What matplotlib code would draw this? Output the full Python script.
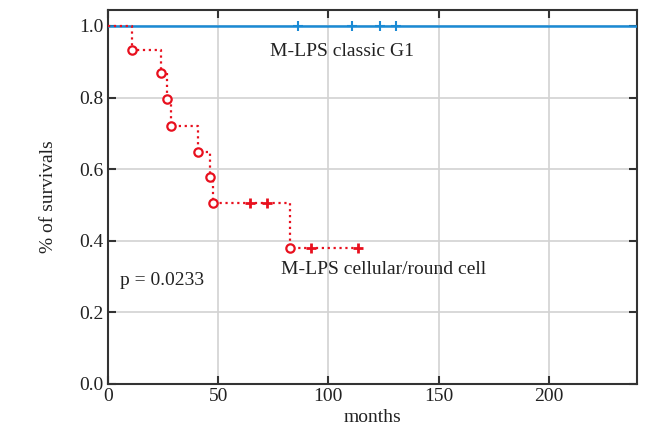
import matplotlib.pyplot as plt
import numpy as np

# cellular/round cell group: event times and survival after each event
red_times = [0, 11, 24, 27, 28.5, 41, 46.5, 47.5, 82.5]
red_surv = [1.0, 0.933, 0.868, 0.797, 0.72, 0.649, 0.578, 0.505, 0.38]
red_censor_t = [64.5, 72, 92, 113.5]
red_censor_s = [0.505, 0.505, 0.38, 0.38]
red_end = 113.5

# classic G1 group: no events
blue_times = [0, 240]
blue_surv = [1.0, 1.0]
blue_censor_t = [86, 110.5, 123.5, 130.5]

red = '#e8101e'
blue = '#1a8ad4'

plt.rcParams['font.family'] = ['Liberation Serif', 'DejaVu Serif']

fig = plt.figure(figsize=(6.49, 4.30), dpi=100)
ax = fig.add_axes([0.1664, 0.107, 0.815, 0.870])

ax.grid(True, color='#d2d2d2', linewidth=1.2)
ax.set_axisbelow(True)

# blue curve
ax.plot(blue_times, blue_surv, color=blue, linewidth=1.8, zorder=3)
ax.plot(blue_censor_t, [1.0] * len(blue_censor_t), linestyle='none', marker='+',
        color=blue, markersize=7, markeredgewidth=1.5, zorder=4)

# red step curve
xs = red_times + [red_end]
ys = red_surv + [red_surv[-1]]
ax.step(xs, ys, where='post', color=red, linestyle=':', linewidth=1.6, zorder=3)
ax.plot(red_times[1:], red_surv[1:], linestyle='none', marker='o', markersize=6,
        markerfacecolor='white', markeredgecolor=red, markeredgewidth=1.6, zorder=4)
ax.plot(red_censor_t, red_censor_s, linestyle='none', marker='+', color=red,
        markersize=7.5, markeredgewidth=2.0, zorder=4)

ax.text(106, 0.93, 'M-LPS classic G1', fontsize=14, ha='center', va='center', color='#222222')
ax.text(78.5, 0.32, 'M-LPS cellular/round cell', fontsize=14, ha='left', va='center', color='#222222')
ax.text(5.5, 0.29, 'p = 0.0233', fontsize=14, ha='left', va='center', color='#222222')

ax.set_xlim(0, 240)
ax.set_ylim(0, 1.045)
ax.set_xticks([0, 50, 100, 150, 200])
ax.set_yticks([0.0, 0.2, 0.4, 0.6, 0.8, 1.0])
ax.set_yticklabels(['0.0', '0.2', '0.4', '0.6', '0.8', '1.0'])
ax.tick_params(direction='in', length=6, width=1.5, color='#333333',
               top=True, right=True, labelsize=14, labelcolor='#222222', pad=3)
for s in ax.spines.values():
    s.set_color('#333333')
    s.set_linewidth(1.5)

ax.set_xlabel('months', fontsize=14, color='#222222', labelpad=3)
ax.set_ylabel('% of survivals', fontsize=14, color='#222222', labelpad=16)

fig.savefig('out.png', dpi=100)
